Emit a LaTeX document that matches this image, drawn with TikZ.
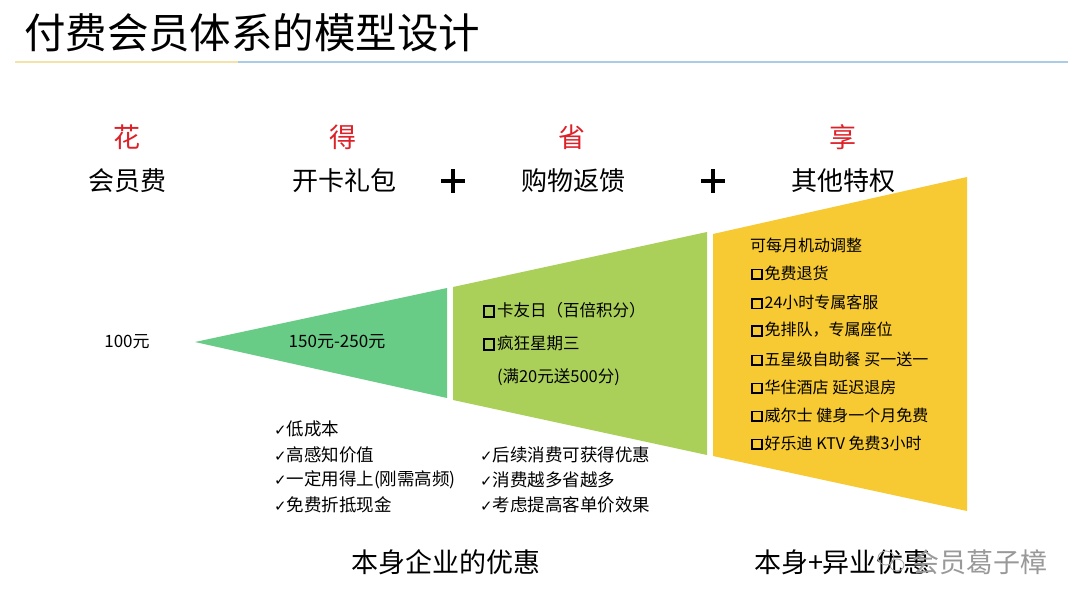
\documentclass[tikz,border=0pt]{standalone}
\usepackage{fontspec}
\setmainfont{Noto Sans CJK SC}
\newfontfamily\djv{DejaVu Sans}
\definecolor{redc}{RGB}{222,32,40}
\definecolor{g1}{RGB}{104,204,134}
\definecolor{g2}{RGB}{170,208,90}
\definecolor{yl}{RGB}{247,201,50}
\definecolor{lineY}{RGB}{243,226,170}
\definecolor{lineB}{RGB}{170,204,228}
\newcommand\bx{\raisebox{0.04em}{\setlength{\fboxsep}{0pt}\setlength{\fboxrule}{1.9pt}\fbox{\rule{0pt}{0.5em}\hspace{0.5em}}}\hspace{0.12em}}
\newcommand\ck{{\djv\fontsize{15}{15}\selectfont ✓}}
\tikzset{
  every node/.style={inner sep=0pt, outer sep=0pt},
  hdr/.style={font=\fontsize{27}{30}\selectfont, text=redc},
  lbl/.style={font=\fontsize{26}{30}\selectfont},
  small/.style={font=\fontsize{17}{20}\selectfont},
  lst/.style={font=\fontsize{16}{20}\selectfont, anchor=west},
  chk/.style={font=\fontsize{17.5}{20}\selectfont, anchor=west},
  bottom/.style={font=\fontsize{27}{30}\selectfont},
  plusline/.style={line width=3.4pt}
}
\begin{document}
\begin{tikzpicture}[x=1pt,y=-1pt]
\useasboundingbox[fill=white] (0,0) rectangle (1080,608);
% title
\node[anchor=west, font=\fontsize{41.5}{44}\selectfont] (title) at (24,33) {付费会员体系的模型设计};
\draw[lineY, line width=2pt] (15,62) -- (238,62);
\draw[lineB, line width=2pt] (238,62) -- (1068,62);
% shapes
\fill[g1] (195,342) -- (447,288) -- (447,398) -- cycle;
\fill[g2] (453,287) -- (707,232) -- (707,455) -- (453,400) -- cycle;
\fill[yl] (713,234) -- (967,177) -- (967,511) -- (713,456) -- cycle;
% headers
\node[hdr] (h1) at (127,137) {花};
\node[hdr] (h2) at (343,137) {得};
\node[hdr] (h3) at (572,137) {省};
\node[hdr] (h4) at (843,137) {享};
\node[lbl] (l1) at (127,181) {会员费};
\node[lbl] (l2) at (344,181) {开卡礼包};
\node[lbl] (l3) at (573,181) {购物返馈};
\node[lbl] (l4) at (843,181) {其他特权};
\draw[plusline] (441,181) -- (465,181) (453,169) -- (453,193);
\draw[plusline] (701,181) -- (725,181) (713,169) -- (713,193);
% values
\node[small] (v1) at (127,342) {100元};
\node[small] (v2) at (337,342) {150元-250元};
\node[lst, font=\fontsize{16.5}{20}\selectfont] (s1) at (483,310) {\bx 卡友日（百倍积分）};
\node[lst, font=\fontsize{16.5}{20}\selectfont] (s2) at (483,343) {\bx 疯狂星期三};
\node[lst, font=\fontsize{16.5}{20}\selectfont] (s3) at (497,377) {(满20元送500分)};
% privileges
\node[lst] (p0) at (750,245) {可每月机动调整};
\node[lst] (p1) at (751,273) {\bx 免费退货};
\node[lst] (p2) at (751,302) {\bx 24小时专属客服};
\node[lst] (p3) at (751,330) {\bx 免排队，专属座位};
\node[lst] (p4) at (751,359) {\bx 五星级自助餐 买一送一};
\node[lst] (p5) at (751,387) {\bx 华住酒店 延迟退房};
\node[lst] (p6) at (751,415) {\bx 威尔士 健身一个月免费};
\node[lst] (p7) at (751,443) {\bx 好乐迪 KTV 免费3小时};
% check lists
\node[chk] (c1) at (274,429) {\ck 低成本};
\node[chk] (c2) at (274,455) {\ck 高感知价值};
\node[chk] (c3) at (274,480) {\ck 一定用得上(刚需高频)};
\node[chk] (c4) at (274,505) {\ck 免费折抵现金};
\node[chk] (d1) at (480,455) {\ck 后续消费可获得优惠};
\node[chk] (d2) at (480,480) {\ck 消费越多省越多};
\node[chk] (d3) at (480,505) {\ck 考虑提高客单价效果};
% bottom
\node[bottom] (b1) at (446,562) {本身企业的优惠};
\node[bottom, anchor=west] (b2) at (754,562) {本身+异业优惠};
\draw[black!35, line width=0.8pt] (886,558) ellipse (8pt and 7pt) (897,565) ellipse (7pt and 6pt);
\node[bottom, anchor=west, text=black!40] (wm5) at (912,562) {会员葛子樟};
\end{tikzpicture}
\end{document}
